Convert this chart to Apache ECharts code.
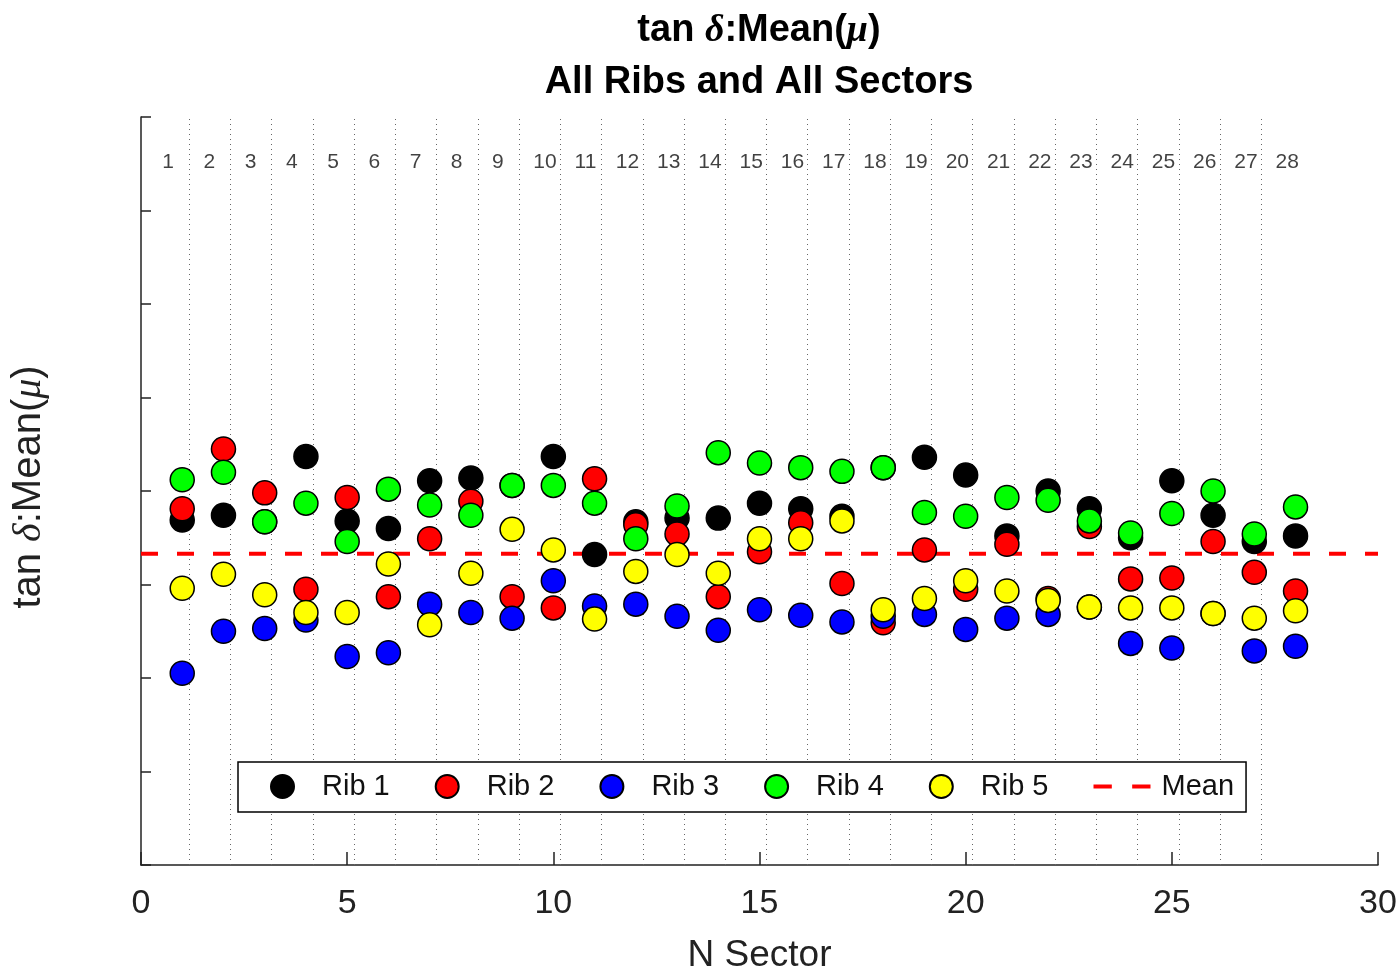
<!DOCTYPE html>
<html>
<head>
<meta charset="utf-8">
<script src="https://cdn.jsdelivr.net/npm/echarts@6/dist/echarts.min.js"></script>
<style>
  html, body { margin: 0; padding: 0; background: #fff; overflow: hidden; }
  #chart { width: 1399px; height: 973px; }
</style>
</head>
<body>
<div id="chart"></div>
<script>
// ---------- data ----------
const sectors = [1,2,3,4,5,6,7,8,9,10,11,12,13,14,15,16,17,18,19,20,21,22,23,24,25,26,27,28];
const rib1 = [3.69,3.74,3.67,4.37,3.68,3.60,4.11,4.14,4.06,4.37,3.32,3.67,3.71,3.71,3.87,3.81,3.73,4.25,4.36,4.17,3.52,4.00,3.81,3.50,4.11,3.74,3.46,3.52];
const rib2 = [3.81,4.45,3.98,2.95,3.93,2.87,3.49,3.89,2.87,2.75,4.13,3.64,3.54,2.87,3.35,3.66,3.01,2.59,3.37,2.95,3.43,2.85,3.62,3.06,3.07,3.46,3.13,2.93];
const rib3 = [2.05,2.50,2.53,2.62,2.23,2.27,2.79,2.70,2.64,3.04,2.77,2.79,2.66,2.51,2.73,2.67,2.60,2.66,2.68,2.52,2.64,2.68,2.76,2.37,2.32,2.69,2.29,2.34];
const rib4 = [4.12,4.20,3.67,3.87,3.46,4.02,3.85,3.74,4.06,4.06,3.87,3.49,3.84,4.41,4.30,4.25,4.21,4.25,3.77,3.73,3.93,3.90,3.68,3.55,3.76,4.00,3.54,3.83];
const rib5 = [2.96,3.11,2.89,2.70,2.70,3.22,2.57,3.12,3.59,3.37,2.63,3.14,3.32,3.12,3.49,3.49,3.68,2.73,2.85,3.04,2.93,2.83,2.76,2.75,2.75,2.69,2.64,2.72];
const meanValue = 3.33;
const ribNames = ['Rib 1','Rib 2','Rib 3','Rib 4','Rib 5'];
const ribColors = ['#000000','#ff0000','#0000ff','#00ff00','#ffff00'];
const xTicks = [0,5,10,15,20,25,30];

// ---------- chart ----------
const ribs = [rib1, rib2, rib3, rib4, rib5];
const FONT = '"Liberation Sans", Arial, sans-serif';
const SERIF = '"Liberation Serif", "DejaVu Serif", serif';
const xMin = xTicks[0], xMax = xTicks[xTicks.length - 1];
const edgeOffset = 0.17;
const labelLevel = 7.52;

const chart = echarts.init(document.getElementById('chart'), null, { renderer: 'canvas' });

const scatterSeries = ribs.map((vals, i) => ({
  name: ribNames[i],
  type: 'scatter',
  symbol: 'circle',
  symbolSize: 24,
  z: 5,
  itemStyle: { color: ribColors[i], borderColor: '#000', borderWidth: 1.5, opacity: 1 },
  emphasis: { disabled: true },
  data: sectors.map((s, k) => [s, vals[k]])
}));

const option = {
  backgroundColor: '#ffffff',
  animation: false,
  title: {
    left: 759, top: 5, textAlign: 'center', padding: 0,
    text: '{b|tan }{g|δ}{b|:Mean(}{g|μ}{b|)}\n{b|All Ribs and All Sectors}',
    textStyle: {
      rich: {
        b: { fontFamily: FONT, fontWeight: 'bold', fontSize: 38, color: '#000', lineHeight: 52 },
        g: { fontFamily: SERIF, fontStyle: 'italic', fontWeight: 'bold', fontSize: 38, color: '#000', lineHeight: 52 }
      }
    }
  },
  legend: {
    data: ribNames.map(n => ({ name: n, icon: 'circle' })).concat([{
      name: 'Mean',
      icon: 'path://M0,0H18V4H0ZM38,0H56V4H38Z',
      itemStyle: { color: '#ff0000', borderWidth: 0 }
    }]),
    left: 238, top: 762,
    orient: 'horizontal',
    padding: [10, 12, 11, 32],
    itemWidth: 57, itemHeight: 23, itemGap: 45,
    borderColor: '#000', borderWidth: 1.5,
    backgroundColor: '#fff',
    textStyle: { fontFamily: FONT, fontSize: 29, color: '#111', padding: [0, 0, 0, 6] },
    selectedMode: false
  },
  grid: { left: 141, right: 21, top: 117, bottom: 108, containLabel: false, outerBoundsMode: 'none' },
  xAxis: {
    type: 'value', min: xMin, max: xMax, interval: 5,
    name: 'N Sector', nameLocation: 'middle', nameGap: 72,
    nameTextStyle: { fontFamily: FONT, fontSize: 37, color: '#222' },
    axisLine: { show: true, onZero: false, lineStyle: { color: '#222', width: 1.5 } },
    axisTick: { show: true, inside: true, length: 13, lineStyle: { color: '#222', width: 1.5 } },
    axisLabel: { fontFamily: FONT, fontSize: 34, color: '#222', margin: 22 },
    splitLine: { show: false }
  },
  yAxis: {
    type: 'value', min: 0, max: 8, interval: 1,
    name: '{n|tan }{g|δ}{n|:Mean(}{g|μ}{n|)}',
    nameLocation: 'middle', nameGap: 92,
    nameTextStyle: {
      padding: [0, 0, 0, 8],
      rich: {
        n: { fontFamily: FONT, fontSize: 40, color: '#222' },
        g: { fontFamily: SERIF, fontStyle: 'italic', fontSize: 40, color: '#222' }
      }
    },
    axisLine: { show: true, onZero: false, lineStyle: { color: '#222', width: 1.5 } },
    axisTick: { show: true, inside: true, length: 10, lineStyle: { color: '#222', width: 1.5 } },
    axisLabel: { show: false },
    splitLine: { show: false }
  },
  series: [
    {
      name: 'Mean',
      type: 'line',
      symbol: 'none',
      z: 3,
      lineStyle: { color: '#ff0000', width: 4, type: [17, 19] },
      itemStyle: { color: '#ff0000' },
      emphasis: { disabled: true },
      data: [[xMin, meanValue], [xMax, meanValue]],
      markLine: {
        silent: true,
        symbol: ['none', 'none'],
        label: { show: false },
        z: 1,
        lineStyle: { color: '#666', width: 1, type: [1, 4] },
        data: sectors.slice(0, -1).map(s => ({ xAxis: s + edgeOffset }))
      }
    },
    ...scatterSeries,
    {
      name: 'sectorLabels',
      type: 'scatter',
      silent: true,
      symbol: 'circle',
      symbolSize: 1,
      itemStyle: { color: 'rgba(0,0,0,0)' },
      z: 2,
      label: {
        show: true,
        position: [-19.5, 0.5],
        align: 'left',
        verticalAlign: 'middle',
        fontFamily: FONT,
        fontSize: 21,
        color: '#111',
        formatter: p => String(p.value[0])
      },
      data: sectors.map(s => [s, labelLevel])
    }
  ]
};

chart.setOption(option);
</script>
</body>
</html>
